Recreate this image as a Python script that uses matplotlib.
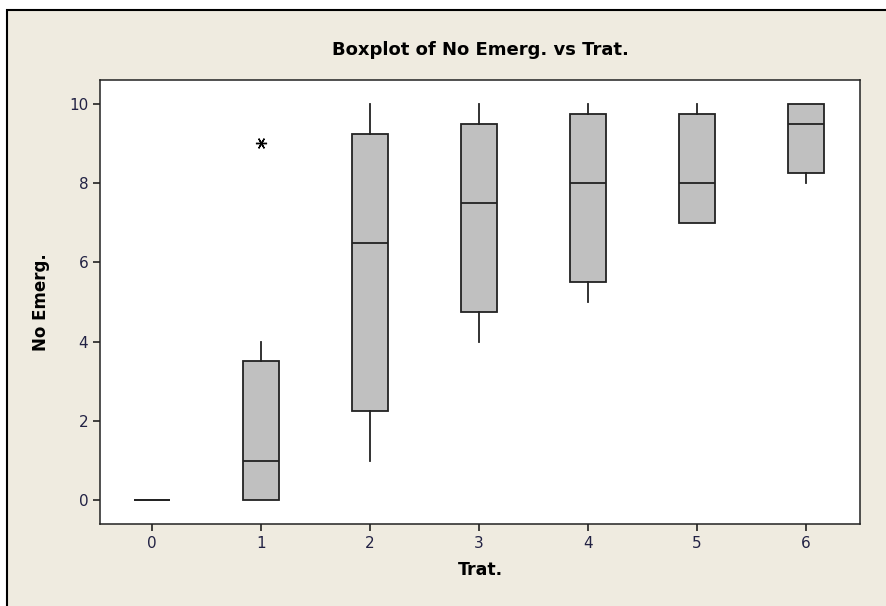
import matplotlib.pyplot as plt
from matplotlib.patches import Rectangle

# =========================
# Data
# =========================
trat = [0, 1, 2, 3, 4, 5, 6]

q1 = [0, 0, 2.25, 4.75, 5.5, 7.0, 8.25]
median = [0, 1, 6.5, 7.5, 8.0, 8.0, 9.5]
q3 = [0, 3.5, 9.25, 9.5, 9.75, 9.75, 10.0]
whisker_lo = [0, 0, 1, 4, 5, 7, 8]
whisker_hi = [0, 4, 10, 10, 10, 10, 10]
outliers = [[], [9], [], [], [], [], []]

BG = "#EFEBE0"
BOX = "#C0C0C0"

stats = []
for i in range(len(trat)):
    stats.append({
        "med": median[i],
        "q1": q1[i],
        "q3": q3[i],
        "whislo": whisker_lo[i],
        "whishi": whisker_hi[i],
        "fliers": outliers[i],
    })

# =========================
# Figure
# =========================
fig = plt.figure(figsize=(8.86, 6.06), dpi=100, facecolor="white")

# beige panel with border (cropped on right / bottom)
fig.patches.append(Rectangle(
    (7 / 886, -0.01), 1.0, 1 - 10 / 606 + 0.01,
    transform=fig.transFigure, facecolor=BG,
    edgecolor="black", linewidth=1.5, zorder=-10
))

ax = fig.add_axes([100 / 886, 1 - 524 / 606, 760 / 886, 444 / 606])
ax.set_facecolor("white")

ax.bxp(
    stats,
    positions=trat,
    widths=0.33,
    patch_artist=True,
    showcaps=False,
    boxprops=dict(facecolor=BOX, edgecolor="#222222", linewidth=1.3),
    medianprops=dict(color="#222222", linewidth=1.3),
    whiskerprops=dict(color="#222222", linewidth=1.3),
    flierprops=dict(marker=(6, 2, 30), markersize=8,
                    markeredgecolor="black", markeredgewidth=1.0,
                    linestyle="none"),
)

ax.set_xlim(-0.48, 6.5)
ax.set_ylim(-0.6, 10.6)
ax.set_xticks(trat)
ax.set_xticklabels([str(t) for t in trat])
ax.set_yticks([0, 2, 4, 6, 8, 10])

for side in ["top", "right", "left", "bottom"]:
    ax.spines[side].set_linewidth(1.1)
    ax.spines[side].set_color("#222222")

ax.tick_params(direction="out", length=5, width=1.2,
               labelsize=11, colors="#222222", labelcolor="#222244")

ax.set_xlabel("Trat.", fontsize=12.5, fontweight="bold", labelpad=7)
ax.set_ylabel("No Emerg.", fontsize=12, fontweight="bold", labelpad=14)

fig.text(480 / 886, 1 - 50 / 606, "Boxplot of No Emerg. vs Trat.",
         ha="center", va="center", fontsize=13, fontweight="bold")

fig.savefig("out.png", dpi=100, facecolor=fig.get_facecolor())
